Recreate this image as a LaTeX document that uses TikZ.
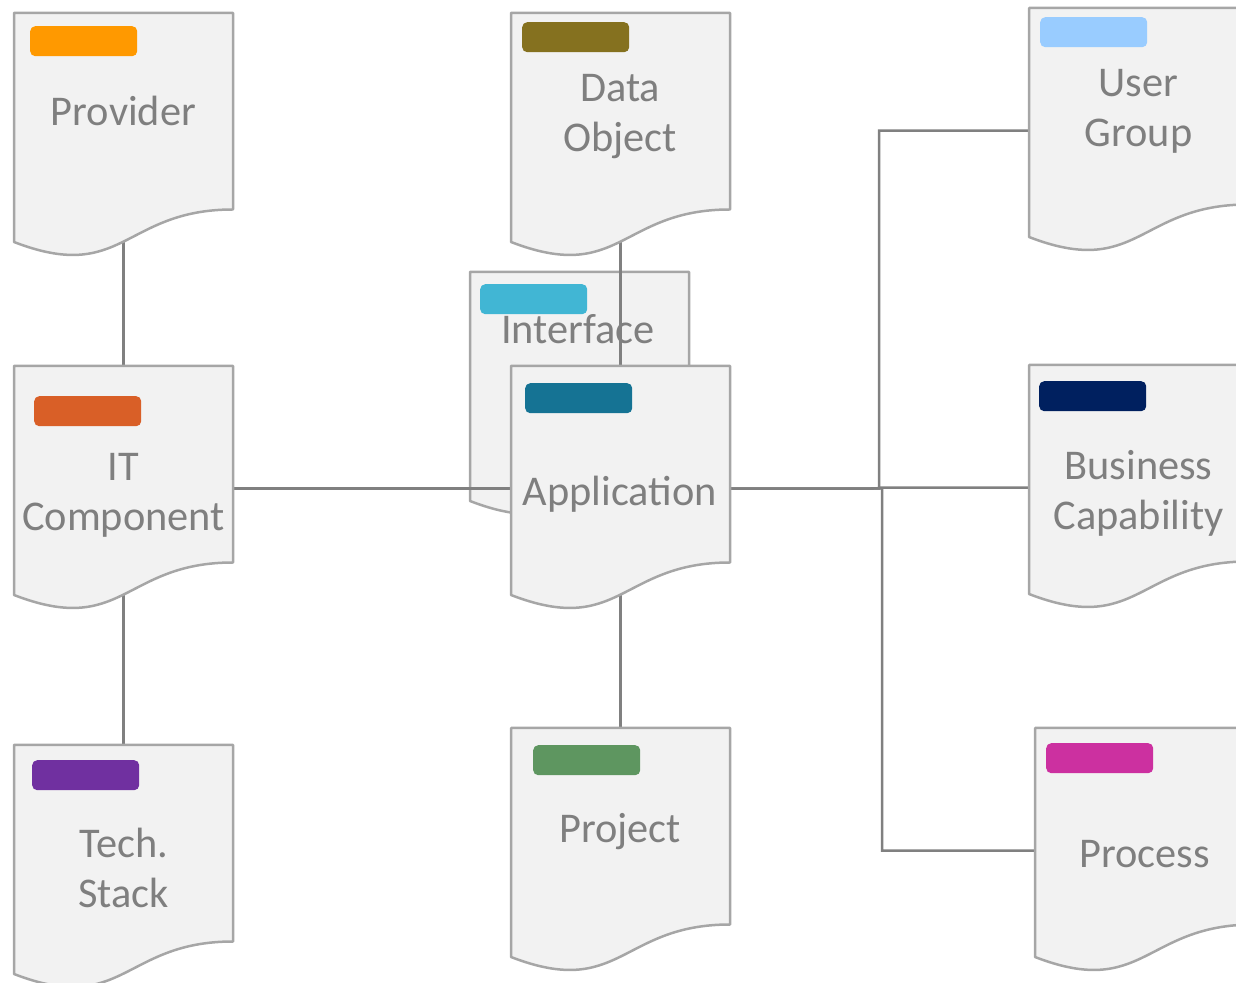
\documentclass[tikz,border=0pt]{standalone}
\usepackage{fontspec}
\setmainfont{Carlito}
\pgfdeclarelayer{back}
\pgfdeclarelayer{wires}
\pgfsetlayers{back,wires,main}
\definecolor{pagefill}{HTML}{F2F2F2}
\definecolor{pageline}{HTML}{A6A6A6}
\definecolor{wireline}{HTML}{808080}
\definecolor{txtgrey}{HTML}{7F7F7F}
\definecolor{tagprov}{HTML}{FF9900}
\definecolor{tagdobj}{HTML}{85711F}
\definecolor{tagugrp}{HTML}{99CCFF}
\definecolor{tagintf}{HTML}{41B6D4}
\definecolor{tagitc}{HTML}{D95F27}
\definecolor{tagapp}{HTML}{157394}
\definecolor{tagbcap}{HTML}{00205F}
\definecolor{tagtstk}{HTML}{7030A0}
\definecolor{tagproj}{HTML}{5E9660}
\definecolor{tagproc}{HTML}{CC30A0}
% page with wavy bottom, #1 = name, #2 = top left corner
\newcommand{\docpage}[2]{%
  \filldraw [page,shift={(#2)}] (0,0) -- (219bp,0) -- (219bp,-196.5bp) .. controls (109.5bp,-196.5bp) and (109.5bp,-271.3bp) .. (0,-229bp) -- cycle;
  \node (#1) at (#2) [frame] {};}
\begin{document}
\begin{tikzpicture}[
  page/.style={fill=pagefill,draw=pageline,line width=2.5bp,line join=round},
  frame/.style={rectangle,minimum width=219bp,minimum height=245bp,inner sep=0,anchor=north west},
  tag/.style={rectangle,rounded corners=5bp,minimum width=107bp,minimum height=30bp,inner sep=0,anchor=north west},
  doctext/.style={text=txtgrey,font=\fontsize{42.5}{51}\selectfont,align=center,anchor=base,inner sep=0},
  wire/.style={draw=wireline,line width=2.5bp}]
		%%
  \useasboundingbox (0,0) rectangle (1236bp,983bp);
  \clip (0,0) rectangle (1236bp,983bp);
  \begin{pgfonlayer}{back}
  \docpage{Interface}{470bp,711bp}
  \node (InterfaceTag) at (480bp,699bp) [tag,fill=tagintf] {};
  \node (InterfaceT) at (578bp,639bp) [doctext] {Interface};
  \end{pgfonlayer}
  \docpage{Provider}{14bp,970bp}
  \node (ProviderTag) at (30bp,957bp) [tag,fill=tagprov] {};
  \node (ProviderT) at (123.5bp,857bp) [doctext] {Provider};
  \docpage{DataObject}{511bp,970bp}
  \node (DataObjectTag) at (522bp,961bp) [tag,fill=tagdobj] {};
  \node (DataObjectT) at (620bp,831bp) [doctext] {Data\\Object};
  \docpage{UserGroup}{1029bp,975bp}
  \node (UserGroupTag) at (1040bp,966bp) [tag,fill=tagugrp] {};
  \node (UserGroupT) at (1138.5bp,836bp) [doctext] {User\\Group};
  \docpage{ITComp}{14bp,617bp}
  \node (ITCompTag) at (34bp,587bp) [tag,fill=tagitc] {};
  \node (ITCompT) at (123.5bp,452bp) [doctext] {IT\\Component};
  \docpage{App}{511bp,617bp}
  \node (AppTag) at (525bp,600bp) [tag,fill=tagapp] {};
  \node (AppT) at (620bp,477bp) [doctext] {Application};
  \docpage{BizCap}{1029bp,618bp}
  \node (BizCapTag) at (1039bp,602bp) [tag,fill=tagbcap] {};
  \node (BizCapT) at (1138.5bp,453bp) [doctext] {Business\\Capability};
  \docpage{TechStack}{14bp,238bp}
  \node (TechStackTag) at (32bp,223bp) [tag,fill=tagtstk] {};
  \node (TechStackT) at (123.5bp,75bp) [doctext] {Tech.\\Stack};
  \docpage{Project}{511bp,255bp}
  \node (ProjectTag) at (533bp,238bp) [tag,fill=tagproj] {};
  \node (ProjectT) at (620bp,140bp) [doctext] {Project};
  \docpage{Process}{1035bp,255bp}
  \node (ProcessTag) at (1046bp,240bp) [tag,fill=tagproc] {};
  \node (ProcessT) at (1144.5bp,115bp) [doctext] {Process};
		%
  \coordinate (JoinUp) at (879bp,494.5bp);
  \coordinate (JoinDown) at (882bp,494.5bp);
  \begin{pgfonlayer}{wires}
  \draw [wire] (Provider.center) -- (ITComp.center);
  \draw [wire] (ITComp.center) -- (App.center);
  \draw [wire] (TechStack.center) -- (ITComp.center);
  \draw [wire] (DataObject.center) -- (App.center);
  \draw [wire] (App.center) -- (Project.center);
  \draw [wire] (App.center) -- (JoinUp) |- (UserGroup.center);
  \draw [wire] (App.center) -- (JoinUp) |- (BizCap.center);
  \draw [wire] (App.center) -- (JoinDown) |- (Process.center);
  \end{pgfonlayer}
		%
\end{tikzpicture}
\end{document}
